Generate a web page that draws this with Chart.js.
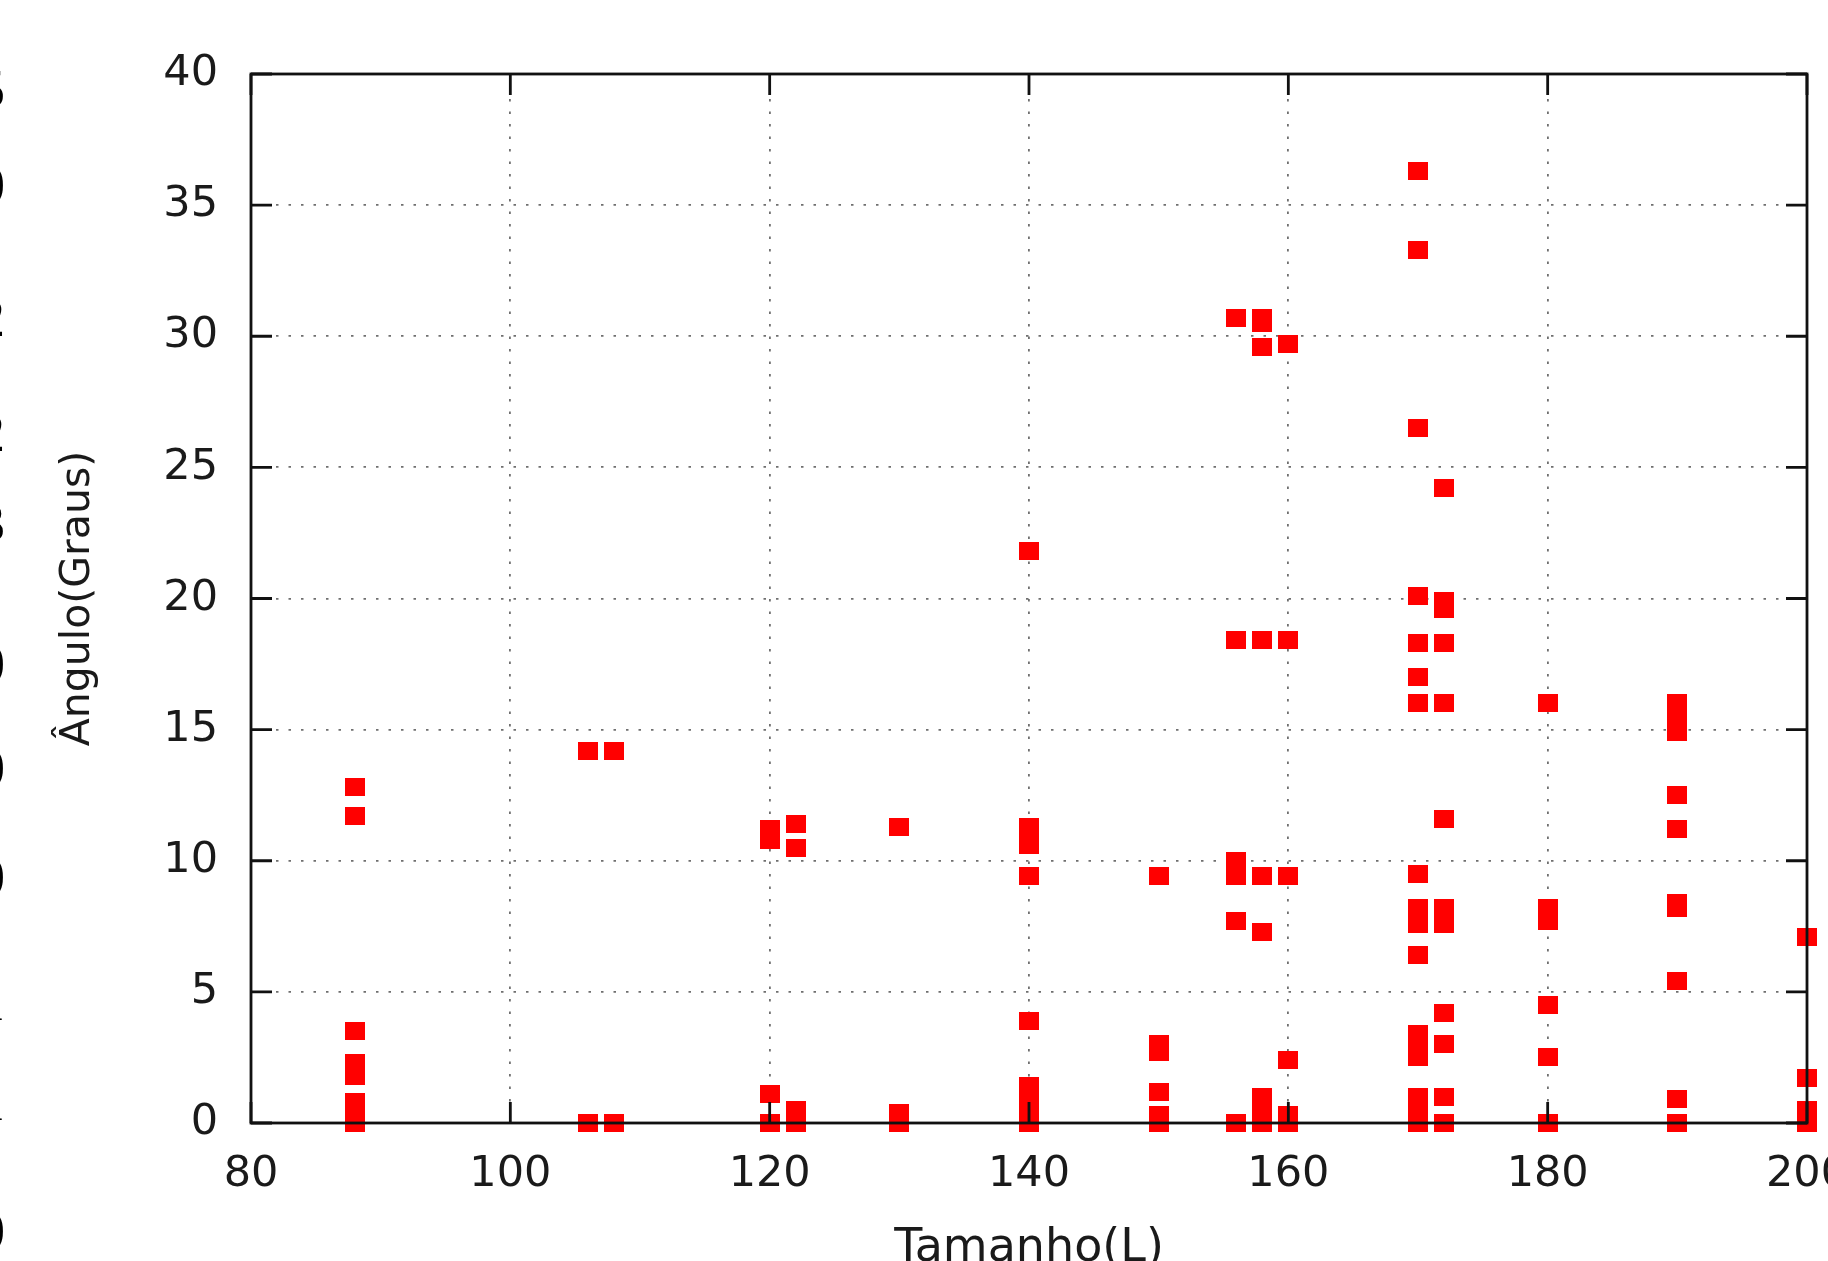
<!DOCTYPE html>
<html>
<head>
<meta charset="utf-8">
<script src="https://cdn.jsdelivr.net/npm/chart.js@4/dist/chart.umd.min.js"></script>
<style>
  html, body { margin: 0; padding: 0; background: #ffffff; overflow: hidden; }
  #wrap { width: 1828px; height: 1300px; }
</style>
</head>
<body>
<div id="wrap"><canvas id="c" width="1828" height="1300"></canvas></div>
<script>
// ---- Data (Tamanho (L) vs Ângulo (Graus)) ----
const sizes = [88, 106, 108, 120, 122, 130, 140, 150, 156, 158, 160, 170, 172, 180, 190, 200];
const angles088 = [12.8, 11.7, 3.5, 2.3, 1.8, 0.8, 0.4, 0];
const angles106 = [14.2, 0];
const angles108 = [14.2, 0];
const angles120 = [11.2, 10.8, 1.1, 0];
const angles122 = [11.4, 10.5, 0.5, 0];
const angles130 = [11.3, 0.4, 0];
const angles140 = [21.8, 11.3, 10.9, 10.6, 9.4, 3.9, 1.4, 0.9, 0.4, 0];
const angles150 = [9.4, 3.0, 2.7, 1.2, 0.3, 0];
const angles156 = [30.7, 18.4, 10.0, 9.4, 7.7, 0];
const angles158 = [30.7, 30.5, 29.6, 18.4, 9.4, 7.3, 1.0, 0.5, 0];
const angles160 = [29.7, 18.4, 9.4, 2.4, 0.3, 0];
const angles170 = [36.3, 33.3, 26.5, 20.1, 18.3, 17.0, 16.0, 9.5, 8.2, 7.9, 7.6, 6.4, 3.4, 2.9, 2.5, 1.0, 0.5, 0];
const angles172 = [24.2, 19.9, 19.6, 18.3, 16.0, 11.6, 8.2, 7.6, 4.2, 3.0, 1.0, 0];
const angles180 = [16.0, 8.2, 7.7, 4.5, 2.5, 0];
const angles190 = [16.0, 15.5, 14.9, 12.5, 11.2, 8.4, 8.2, 5.4, 0.9, 0];
const angles200 = [7.1, 1.7, 0.5, 0];
const anglesBySize = [angles088, angles106, angles108, angles120, angles122, angles130, angles140,
  angles150, angles156, angles158, angles160, angles170, angles172, angles180, angles190, angles200];

const xTicks = [80, 100, 120, 140, 160, 180, 200];
const yTicks = [0, 5, 10, 15, 20, 25, 30, 35, 40];
const xTitle = 'Tamanho(L)';
const yTitle = 'Ângulo(Graus)';
// partial glyphs of neighbouring page text cut by the left edge
const edgeGlyphs = ['5', '0', '2', '2', '3', '0', '0', '0', '1', '1', '0'];
const edgeGlyphY = [93, 189, 322, 437, 527, 668, 772, 881, 1006, 1106, 1235];

// build point list
const points = [];
sizes.forEach((s, i) => anglesBySize[i].forEach(a => points.push({x: s, y: a})));

// marker: filled red square (gnuplot pt 5)
const marker = document.createElement('canvas');
marker.width = 20; marker.height = 18;
const mctx = marker.getContext('2d');
mctx.fillStyle = '#ff0000';
mctx.fillRect(0, 0, 20, 18);

const TICK_LEN = 21;
const framePlugin = {
  id: 'frame',
  afterDraw(chart) {
    const {ctx, chartArea: a, scales} = chart;
    ctx.save();
    ctx.strokeStyle = '#111111';
    ctx.lineWidth = 2.8;
    ctx.beginPath();
    xTicks.forEach(v => {
      const px = scales.x.getPixelForValue(v);
      ctx.moveTo(px, a.bottom); ctx.lineTo(px, a.bottom - TICK_LEN);
      ctx.moveTo(px, a.top); ctx.lineTo(px, a.top + TICK_LEN);
    });
    yTicks.forEach(v => {
      const py = scales.y.getPixelForValue(v);
      ctx.moveTo(a.left, py); ctx.lineTo(a.left + TICK_LEN, py);
      ctx.moveTo(a.right, py); ctx.lineTo(a.right - TICK_LEN, py);
    });
    ctx.stroke();
    ctx.strokeRect(a.left, a.top, a.right - a.left, a.bottom - a.top);
    // edge fragments
    ctx.fillStyle = '#000000';
    ctx.font = '54px "Liberation Serif"';
    ctx.textAlign = 'right';
    ctx.textBaseline = 'middle';
    edgeGlyphs.forEach((g, i) => ctx.fillText(g, 5, edgeGlyphY[i]));
    ctx.restore();
  }
};

const gridColor = 'rgba(95,95,95,0.9)';
new Chart(document.getElementById('c'), {
  type: 'scatter',
  data: {
    datasets: [{
      data: points,
      pointStyle: marker,
      pointRadius: 10,
      pointHoverRadius: 10,
      showLine: false,
      clip: false
    }]
  },
  options: {
    responsive: false,
    animation: false,
    events: [],
    layout: { padding: { left: 0, right: 21, top: 74, bottom: 0 } },
    plugins: { legend: { display: false }, tooltip: { enabled: false } },
    scales: {
      x: {
        type: 'linear', min: 80, max: 200,
        afterBuildTicks: s => { s.ticks = xTicks.map(v => ({value: v})); },
        afterFit: s => { s.height = 1300 - 1123; s.paddingLeft = 0; s.paddingRight = 0; },
        grid: { color: gridColor, lineWidth: 1.8, drawTicks: false },
        border: { display: false, dash: [2.5, 10] },
        ticks: { color: '#1a1a1a', padding: 26, maxRotation: 0, autoSkip: false,
                 font: { family: 'DejaVu Sans', size: 43 } },
        title: { display: true, text: xTitle, color: '#1a1a1a', padding: { top: 0, bottom: 23 },
                 font: { family: 'DejaVu Sans', size: 46 } }
      },
      y: {
        type: 'linear', min: 0, max: 40,
        afterBuildTicks: s => { s.ticks = yTicks.map(v => ({value: v})); },
        afterFit: s => { s.width = 251; s.paddingTop = 0; s.paddingBottom = 0; },
        grid: { color: gridColor, lineWidth: 1.8, drawTicks: false },
        border: { display: false, dash: [2.5, 10] },
        ticks: { color: '#1a1a1a', padding: 33, autoSkip: false,
                 font: { family: 'DejaVu Sans', size: 43 } },
        title: { display: true, text: yTitle, color: '#1a1a1a', padding: { top: 54, bottom: 0 },
                 font: { family: 'DejaVu Sans', size: 41 } }
      }
    }
  },
  plugins: [framePlugin]
});
</script>
</body>
</html>
